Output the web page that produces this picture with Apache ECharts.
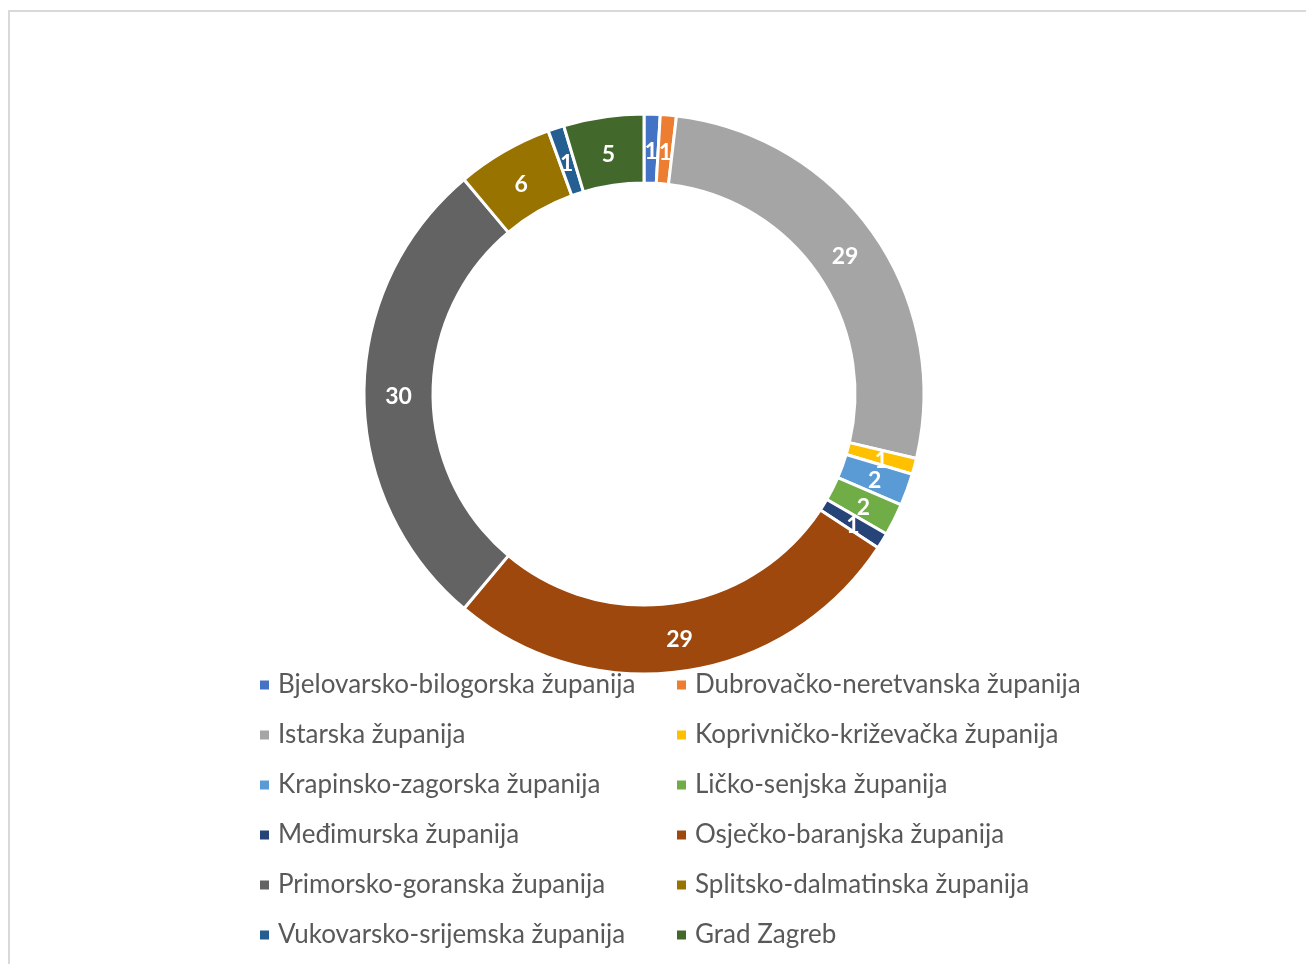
<!DOCTYPE html>
<html>
<head>
<meta charset="utf-8">
<script src="https://cdn.jsdelivr.net/npm/echarts@6/dist/echarts.min.js"></script>
<style>
  html, body { margin: 0; padding: 0; background: #fff; overflow: hidden; }
  #frame {
    position: absolute; left: 8px; top: 10px; width: 1400px; height: 1000px;
    border: 2px solid #d9d9d9; box-sizing: border-box;
  }
  #main { position: absolute; left: 0; top: 0; width: 1306px; height: 964px; }
</style>
</head>
<body>
<div id="frame"></div>
<div id="main"></div>
<script>
const counties = [
  "Bjelovarsko-bilogorska županija",
  "Dubrovačko-neretvanska županija",
  "Istarska županija",
  "Koprivničko-križevačka županija",
  "Krapinsko-zagorska županija",
  "Ličko-senjska županija",
  "Međimurska županija",
  "Osječko-baranjska županija",
  "Primorsko-goranska županija",
  "Splitsko-dalmatinska županija",
  "Vukovarsko-srijemska županija",
  "Grad Zagreb"
];
const counts = [1, 1, 29, 1, 2, 2, 1, 29, 30, 6, 1, 5];
const colors = ["#4472C4", "#ED7D31", "#A5A5A5", "#FFC000", "#5B9BD5", "#70AD47",
                "#264478", "#9E480E", "#636363", "#997300", "#255E91", "#43682B"];

const total = counts.reduce((a, b) => a + b, 0);

// label anchor of each slice: middle of the ring, middle of the slice (polar coords)
let acc = 0;
const labelPoints = counts.map(v => {
  const mid = acc + v / 2;
  acc += v;
  return { value: [1, mid], label: v };
});

const leftCol = counties.filter((c, i) => i % 2 === 0);
const rightCol = counties.filter((c, i) => i % 2 === 1);

function legendCol(names, x) {
  return {
    data: names,
    orient: "vertical",
    left: x,
    top: 667,
    itemGap: 24,
    itemWidth: 11,
    itemHeight: 11,
    icon: "rect",
    selectedMode: false,
    textStyle: {
      fontFamily: "Lato",
      fontSize: 26,
      color: "#595959",
      padding: [0, 0, 0, 3]
    }
  };
}

let myChart = echarts.init(document.getElementById("main"));
myChart.setOption({
  color: colors,
  animation: false,
  legend: [legendCol(leftCol, 253), legendCol(rightCol, 670)],
  polar: { center: [644, 394], radius: [211, 280] },
  angleAxis: { type: "value", min: 0, max: total, startAngle: 90, clockwise: true, show: false },
  radiusAxis: { type: "value", min: 0, max: 2, show: false },
  series: [
    {
      type: "pie",
      center: [644, 394],
      radius: [211, 280],
      startAngle: 90,
      clockwise: true,
      avoidLabelOverlap: false,
      itemStyle: { borderColor: "#fff", borderWidth: 3 },
      label: { show: false },
      labelLine: { show: false },
      emphasis: { disabled: true },
      data: counties.map((n, i) => ({ name: n, value: counts[i] }))
    },
    {
      type: "scatter",
      coordinateSystem: "polar",
      symbolSize: 1,
      itemStyle: { color: "rgba(0,0,0,0)", opacity: 1 },
      silent: true,
      z: 5,
      label: {
        show: true,
        position: "inside",
        offset: [0, 3],
        formatter: p => p.data.label,
        color: "#ffffff",
        opacity: 1,
        textBorderWidth: 0,
        fontFamily: "Lato",
        fontWeight: "bold",
        fontSize: 23
      },
      data: labelPoints
    }
  ]
});
</script>
</body>
</html>
